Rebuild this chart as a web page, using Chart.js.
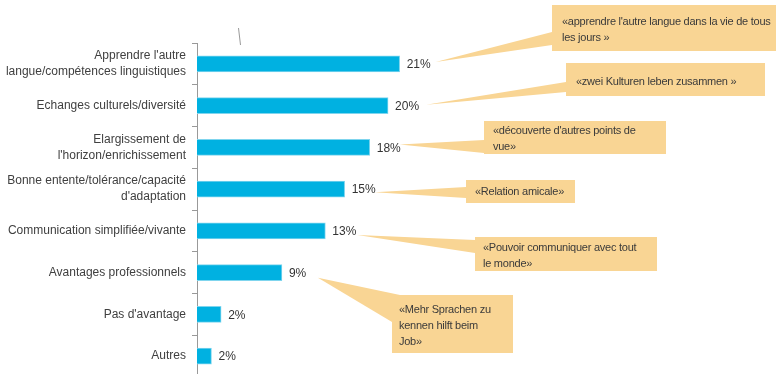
<!DOCTYPE html>
<html>
<head>
<meta charset="utf-8">
<script src="https://cdn.jsdelivr.net/npm/chart.js@4"></script>
<style>
  html, body { margin: 0; padding: 0; background: #fff; overflow: hidden; }
</style>
</head>
<body>
<canvas id="chart" width="776" height="377"></canvas>
<script>
// categories (multi-line labels as arrays)
const categories = [
  ["Apprendre l'autre", "langue/compétences linguistiques"],
  "Echanges culturels/diversité",
  ["Elargissement de", "l'horizon/enrichissement"],
  ["Bonne entente/tolérance/capacité", "d'adaptation"],
  "Communication simplifiée/vivante",
  "Avantages professionnels",
  "Pas d'avantage",
  "Autres"
];
// bar lengths (percent)
const values = [21, 19.8, 17.9, 15.3, 13.3, 8.8, 2.5, 1.5];
// printed labels next to the bars
const valueLabels = ["21%", "20%", "18%", "15%", "13%", "9%", "2%", "2%"];
// quotes in callouts, index of the bar they point to
const quotes = [
  ["«apprendre l'autre langue dans la vie de tous", "les jours »"],
  ["«zwei Kulturen leben zusammen »"],
  ["«découverte d'autres points de", "vue»"],
  ["«Relation amicale»"],
  ["«Pouvoir communiquer avec tout", "le monde»"],
  ["«Mehr Sprachen zu", "kennen hilft beim", "Job»"]
];
const quoteBar = [0, 1, 2, 3, 4, 5];

// callout box layout: box, text offset, wedge base points, tip offset from bar end
const calloutLayout = [
  { box: [552, 5, 224, 46], tx: 10, ty: 17, base: [[552, 32], [552, 45]], tip: [36, -2] },
  { box: [566, 63, 199, 33], tx: 10, ty: 19, base: [[566, 82], [566, 92]], tip: [38, -1] },
  { box: [484, 121, 182, 33], tx: 9, ty: 10, base: [[484, 140], [484, 153]], tip: [30, -3] },
  { box: [466, 180, 109, 23], tx: 9, ty: 12, base: [[466, 187], [466, 198]], tip: [30, 3] },
  { box: [475, 237, 182, 34], tx: 8, ty: 11, base: [[475, 240], [475, 253]], tip: [32, 4] },
  { box: [392, 295, 121, 58], tx: 7, ty: 15, base: [[400, 295], [392, 322]], tip: [36, 5] }
];

const FONT = "'Liberation Sans', Arial, sans-serif";
const TEXT = "#404040";
const CALLOUT_FILL = "#F9D594";

const annotate = {
  id: "annotate",
  afterDatasetsDraw(chart) {
    const ctx = chart.ctx;
    const meta = chart.getDatasetMeta(0);
    ctx.save();

    // small stray stroke above the axis
    ctx.strokeStyle = "#999";
    ctx.lineWidth = 1;
    ctx.beginPath();
    ctx.moveTo(238.5, 28);
    ctx.lineTo(240.5, 45);
    ctx.stroke();

    // value labels
    ctx.font = "12px " + FONT;
    ctx.fillStyle = "#333";
    ctx.textAlign = "left";
    ctx.textBaseline = "middle";
    meta.data.forEach((bar, i) => {
      ctx.fillText(valueLabels[i], bar.x + 7, bar.y + 1);
    });

    // callouts
    ctx.font = "11px " + FONT;
    ctx.letterSpacing = "-0.25px";
    quotes.forEach((lines, i) => {
      const L = calloutLayout[i];
      const bar = meta.data[quoteBar[i]];
      const tipX = bar.x + L.tip[0];
      const tipY = bar.y + L.tip[1];
      ctx.fillStyle = CALLOUT_FILL;
      ctx.beginPath();
      ctx.moveTo(tipX, tipY);
      ctx.lineTo(L.base[0][0], L.base[0][1]);
      ctx.lineTo(L.base[1][0], L.base[1][1]);
      ctx.closePath();
      ctx.fill();
      const [bx, by, bw, bh] = L.box;
      ctx.fillRect(bx, by, bw, bh);
      ctx.fillStyle = "#3a3a3a";
      lines.forEach((t, k) => {
        ctx.fillText(t, bx + L.tx, by + L.ty + k * 16);
      });
    });
    ctx.restore();
  }
};

new Chart(document.getElementById("chart"), {
  type: "bar",
  data: {
    labels: categories,
    datasets: [{
      data: values,
      backgroundColor: "#00B1E1",
      borderColor: "#7FD5EE",
      borderWidth: 1,
      barThickness: 16
    }]
  },
  options: {
    indexAxis: "y",
    responsive: false,
    animation: false,
    layout: { padding: { top: 43, right: 0, bottom: 0, left: 0 } },
    plugins: {
      legend: { display: false },
      tooltip: { enabled: false }
    },
    scales: {
      x: { display: false, min: 0, max: 60 },
      y: {
        afterFit(scale) {
          scale.width = 197;
          scale.paddingTop = 0;
          scale.paddingBottom = 0;
        },
        grid: {
          offset: true,
          drawOnChartArea: false,
          drawTicks: true,
          tickLength: 5,
          color: "#999"
        },
        border: { color: "#999" },
        ticks: {
          padding: 6,
          color: TEXT,
          font: { family: FONT, size: 12, lineHeight: 16 / 12 }
        }
      }
    }
  },
  plugins: [annotate]
});
</script>
</body>
</html>
